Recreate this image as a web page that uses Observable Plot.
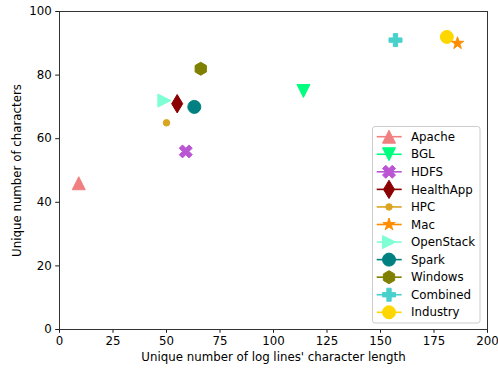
<!DOCTYPE html>
<html>
<head>
<meta charset="utf-8">
<script src="https://cdn.jsdelivr.net/npm/d3@7"></script>
<script src="https://cdn.jsdelivr.net/npm/@observablehq/plot@0.6"></script>
<style>
  html, body { margin: 0; padding: 0; background: #fff; }
  #chart { position: relative; width: 498px; height: 369px; }
</style>
</head>
<body>
<div id="chart"></div>
<script>
// ---- data ----
const names = ["Apache", "BGL", "HDFS", "HealthApp", "HPC", "Mac", "OpenStack", "Spark", "Windows", "Combined", "Industry"];
const xValues = [9, 114, 59, 55, 50, 186, 49, 63, 66, 157, 181];
const yValues = [46, 75, 56, 71, 65, 90, 72, 70, 82, 91, 92];
const colors = ["#F08080", "#00FF7F", "#BA55D3", "#8B0000", "#DAA520", "#FF8C00", "#7FFFD4", "#008080", "#808000", "#48D1CC", "#FFD700"];
const markers = ["triangleUp", "triangleDown", "xFilled", "thinDiamond", "point", "star", "triangleRight", "circle", "hexagon", "plusFilled", "circle"];
const drawOrder = [0, 1, 2, 3, 4, 10, 6, 7, 8, 9, 5];
const xTicks = [0, 25, 50, 75, 100, 125, 150, 175, 200];
const yTicks = [0, 20, 40, 60, 80, 100];
const xLabel = "Unique number of log lines' character length";
const yLabel = "Unique number of characters";

// ---- marker shapes (matplotlib-like), size = area => S = diameter ----
const dia = size => 2 * Math.sqrt(size / Math.PI);
function poly(ctx, pts) {
  ctx.moveTo(pts[0][0], pts[0][1]);
  for (let i = 1; i < pts.length; i++) ctx.lineTo(pts[i][0], pts[i][1]);
  ctx.closePath();
}
const shapes = {
  circle: { draw(ctx, size) { const r = dia(size) / 2; ctx.moveTo(r, 0); ctx.arc(0, 0, r, 0, 2 * Math.PI); } },
  point: { draw(ctx, size) { const r = dia(size) / 4; ctx.moveTo(r, 0); ctx.arc(0, 0, r, 0, 2 * Math.PI); } },
  triangleUp: { draw(ctx, size) { const h = dia(size) / 2; poly(ctx, [[0, -h], [-h, h], [h, h]]); } },
  triangleDown: { draw(ctx, size) { const h = dia(size) / 2; poly(ctx, [[0, h], [-h, -h], [h, -h]]); } },
  triangleRight: { draw(ctx, size) { const h = dia(size) / 2; poly(ctx, [[h, 0], [-h, -h], [-h, h]]); } },
  thinDiamond: { draw(ctx, size) { const S = dia(size) * 0.7071; poly(ctx, [[0, -S], [0.6 * S, 0], [0, S], [-0.6 * S, 0]]); } },
  hexagon: { draw(ctx, size) { const r = dia(size) / 2; const p = []; for (let k = 0; k < 6; k++) { const a = (-90 + 60 * k) * Math.PI / 180; p.push([r * Math.cos(a), r * Math.sin(a)]); } poly(ctx, p); } },
  star: { draw(ctx, size) { const R = dia(size) / 2, ri = R * 0.381966; const p = []; for (let k = 0; k < 10; k++) { const a = (-90 + 36 * k) * Math.PI / 180; const rr = k % 2 ? ri : R; p.push([rr * Math.cos(a), rr * Math.sin(a)]); } poly(ctx, p); } },
  plusFilled: { draw(ctx, size) { const u = dia(size) / 6; poly(ctx, [[-1,-3],[1,-3],[1,-1],[3,-1],[3,1],[1,1],[1,3],[-1,3],[-1,1],[-3,1],[-3,-1],[-1,-1]].map(([a,b]) => [a*u, b*u])); } },
  xFilled: { draw(ctx, size) { const u = dia(size) / 4; poly(ctx, [[-1,-2],[0,-1],[1,-2],[2,-1],[1,0],[2,1],[1,2],[0,1],[-1,2],[-2,1],[-1,0],[-2,-1]].map(([a,b]) => [a*u, b*u])); } }
};

const rows = names.map((n, i) => ({ name: n, x: xValues[i], y: yValues[i], order: drawOrder[i] }));
const R = 6.5; // marker radius (px)
const FS = 11.8;

const plot = Plot.plot({
  width: 498, height: 369,
  marginLeft: 59, marginRight: 11, marginTop: 11, marginBottom: 40,
  style: { fontFamily: "DejaVu Sans", fontSize: FS + "px", background: "#fff", color: "#000" },
  x: { domain: [0, 200] },
  y: { domain: [0, 100] },
  color: { domain: names, range: colors },
  symbol: { domain: names, range: markers.map(m => shapes[m]) },
  marks: [
    Plot.axisX({ ticks: xTicks, tickSize: 3.8, tickPadding: 3, fontSize: FS, strokeWidth: 0.9, label: null }),
    Plot.axisY({ ticks: yTicks, tickSize: 3.8, tickPadding: 4, fontSize: FS, strokeWidth: 0.9, label: null }),
    Plot.dot(rows, { x: "x", y: "y", symbol: "name", fill: "name", stroke: "name", strokeWidth: 1, r: R, sort: (a, b) => a.order - b.order }),
    Plot.frame({ stroke: "#333", strokeWidth: 1 }),
    Plot.text([xLabel], { frameAnchor: "bottom", dy: 28, lineAnchor: "middle", textAnchor: "middle", fontSize: FS, fill: "#000" }),
    Plot.text([yLabel], { frameAnchor: "left", dx: -42, rotate: -90, lineAnchor: "middle", textAnchor: "middle", fontSize: FS, fill: "#000" })
  ]
});
document.getElementById("chart").appendChild(plot);

// ---- legend (matplotlib-style, lower right) ----
const svg = d3.select(plot);
const lg = svg.append("g").attr("class", "legend");
const box = { x: 372.5, y: 126.5, w: 107.5, h: 196.5 };
lg.append("rect").attr("x", box.x).attr("y", box.y).attr("width", box.w).attr("height", box.h)
  .attr("rx", 2.5).attr("fill", "#fff").attr("fill-opacity", 0.8).attr("stroke", "#ccc").attr("stroke-width", 1);
const rowStep = 17.56;
names.forEach((n, i) => {
  const cy = 136.7 + i * rowStep;
  const g = lg.append("g");
  g.append("line").attr("x1", 376.7).attr("x2", 401.7).attr("y1", cy).attr("y2", cy)
    .attr("stroke", colors[i]).attr("stroke-width", 1.6);
  g.append("path").attr("transform", `translate(389,${cy})`)
    .attr("d", d3.symbol(shapes[markers[i]], Math.PI * R * R)())
    .attr("fill", colors[i]).attr("stroke", colors[i]).attr("stroke-width", 1);
  g.append("text").attr("x", 411).attr("y", cy).attr("dy", "0.35em").attr("text-anchor", "start")
    .attr("font-family", "DejaVu Sans").attr("font-size", FS).attr("fill", "#000").text(n);
});
</script>
</body>
</html>
